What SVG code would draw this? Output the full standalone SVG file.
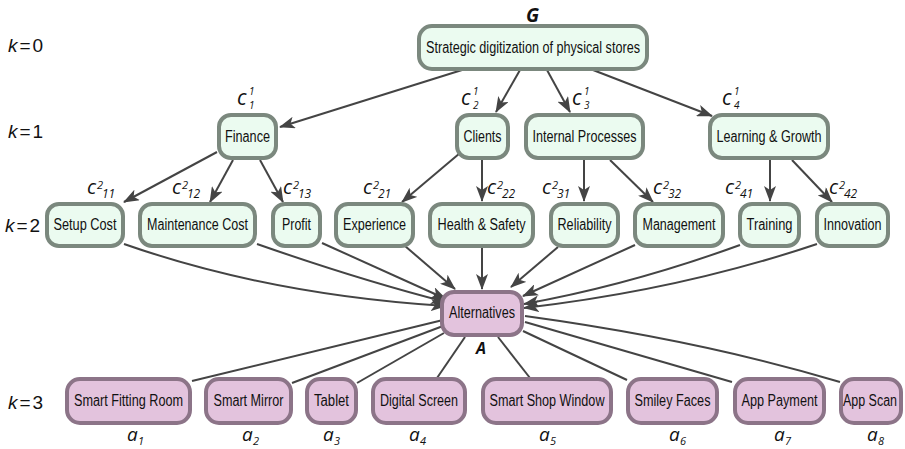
<svg xmlns="http://www.w3.org/2000/svg" width="905" height="449" viewBox="0 0 905 449">
<defs>
<style>
.g rect{fill:#ebfbf0;stroke:#7b887e;stroke-width:4}
.p rect{fill:#e3c3dd;stroke:#8c7488;stroke-width:4}
.t{font-family:"Liberation Sans",Arial,sans-serif;font-size:16px;fill:#111;text-anchor:middle}
.e path{fill:none;stroke:#444;stroke-width:2}
.m{font-family:"Open Sans","Noto Sans",sans-serif;font-style:italic;fill:#111}
.k{font-family:"Liberation Sans",Arial,sans-serif;font-size:19px;fill:#111}
</style>
<marker id="ar" markerUnits="userSpaceOnUse" markerWidth="16" markerHeight="12" viewBox="0 0 16 12" refX="15" refY="6" orient="auto">
<path d="M0,0 L16,6 L0,12 L4,6 z" fill="#444"/>
</marker>
</defs>
<rect width="905" height="449" fill="#fff"/>

<g class="e" id="connectors">
<path marker-end="url(#ar)" d="M462,70 L280,127"/>
<path marker-end="url(#ar)" d="M520,70 L496,112"/>
<path marker-end="url(#ar)" d="M547,70 L570,112"/>
<path marker-end="url(#ar)" d="M593,70 L712,116"/>
<path marker-end="url(#ar)" d="M217,152 L124,202"/>
<path marker-end="url(#ar)" d="M233,160 L210,202"/>
<path marker-end="url(#ar)" d="M260,160 L283,202"/>
<path marker-end="url(#ar)" d="M460,153 L402,202"/>
<path marker-end="url(#ar)" d="M482,160 L482,201"/>
<path marker-end="url(#ar)" d="M584,160 L584,201"/>
<path marker-end="url(#ar)" d="M610,160 L653,202"/>
<path marker-end="url(#ar)" d="M770,160 L770,201"/>
<path marker-end="url(#ar)" d="M792,160 L832,202"/>
<path marker-end="url(#ar)" d="M124,244 Q270,295 446,306"/>
<path marker-end="url(#ar)" d="M257,244 Q360,280 446,302"/>
<path marker-end="url(#ar)" d="M322,243 L446,299"/>
<path marker-end="url(#ar)" d="M405,246 L455,289"/>
<path marker-end="url(#ar)" d="M482,248 L482,289"/>
<path marker-end="url(#ar)" d="M558,247 L511,287"/>
<path marker-end="url(#ar)" d="M635,245 L523,296"/>
<path marker-end="url(#ar)" d="M740,245 Q630,285 524,304"/>
<path marker-end="url(#ar)" d="M817,244 Q680,290 524,308"/>
<path d="M443,320 L192,381"/>
<path d="M443,326 L292,383"/>
<path d="M444,333 L357,383"/>
<path d="M465,337 L437,378"/>
<path d="M498,337 L530,378"/>
<path d="M523,331 L627,380"/>
<path d="M525,322 L732,382"/>
<path d="M525,316 Q700,340 840,382"/>
</g>

<g id="n-root" class="g"><rect x="419" y="26" width="228" height="43" rx="13"/><text class="t" x="533" y="53" textLength="214" lengthAdjust="spacingAndGlyphs">Strategic digitization of physical stores</text></g>
<g id="n-finance" class="g"><rect x="219" y="115" width="57" height="43" rx="12"/><text class="t" x="247.5" y="142" textLength="45" lengthAdjust="spacingAndGlyphs">Finance</text></g>
<g id="n-clients" class="g"><rect x="457" y="115" width="51" height="43" rx="12"/><text class="t" x="482.5" y="142" textLength="38" lengthAdjust="spacingAndGlyphs">Clients</text></g>
<g id="n-internal" class="g"><rect x="526" y="115" width="117" height="43" rx="12"/><text class="t" x="584.5" y="142" textLength="104" lengthAdjust="spacingAndGlyphs">Internal Processes</text></g>
<g id="n-learning" class="g"><rect x="710" y="115" width="118" height="43" rx="12"/><text class="t" x="769" y="142" textLength="105" lengthAdjust="spacingAndGlyphs">Learning &amp; Growth</text></g>

<g id="n-setup" class="g"><rect x="47" y="204" width="76" height="42" rx="12"/><text class="t" x="85" y="230" textLength="63" lengthAdjust="spacingAndGlyphs">Setup Cost</text></g>
<g id="n-maint" class="g"><rect x="140" y="204" width="115" height="42" rx="12"/><text class="t" x="197.5" y="230" textLength="101" lengthAdjust="spacingAndGlyphs">Maintenance Cost</text></g>
<g id="n-profit" class="g"><rect x="273" y="204" width="47" height="42" rx="12"/><text class="t" x="296.5" y="230" textLength="29" lengthAdjust="spacingAndGlyphs">Profit</text></g>
<g id="n-experience" class="g"><rect x="336" y="204" width="77" height="42" rx="12"/><text class="t" x="374.5" y="230" textLength="63" lengthAdjust="spacingAndGlyphs">Experience</text></g>
<g id="n-health" class="g"><rect x="430" y="204" width="103" height="42" rx="12"/><text class="t" x="481.5" y="230" textLength="88" lengthAdjust="spacingAndGlyphs">Health &amp; Safety</text></g>
<g id="n-reliability" class="g"><rect x="551" y="204" width="67" height="42" rx="12"/><text class="t" x="584.5" y="230" textLength="54" lengthAdjust="spacingAndGlyphs">Reliability</text></g>
<g id="n-management" class="g"><rect x="635" y="204" width="88" height="42" rx="12"/><text class="t" x="679" y="230" textLength="73" lengthAdjust="spacingAndGlyphs">Management</text></g>
<g id="n-training" class="g"><rect x="740" y="204" width="59" height="42" rx="12"/><text class="t" x="769.5" y="230" textLength="46" lengthAdjust="spacingAndGlyphs">Training</text></g>
<g id="n-innovation" class="g"><rect x="817" y="204" width="71" height="42" rx="12"/><text class="t" x="852.5" y="230" textLength="58" lengthAdjust="spacingAndGlyphs">Innovation</text></g>

<g id="n-alt" class="p"><rect x="442" y="292" width="80" height="43" rx="12"/><text class="t" x="482" y="318" textLength="66" lengthAdjust="spacingAndGlyphs">Alternatives</text></g>

<g id="n-a1" class="p"><rect x="67" y="379" width="123" height="44" rx="13"/><text class="t" x="128.5" y="406" textLength="109" lengthAdjust="spacingAndGlyphs">Smart Fitting Room</text></g>
<g id="n-a2" class="p"><rect x="206" y="379" width="85" height="44" rx="13"/><text class="t" x="248.5" y="406" textLength="70" lengthAdjust="spacingAndGlyphs">Smart Mirror</text></g>
<g id="n-a3" class="p"><rect x="307" y="379" width="49" height="44" rx="13"/><text class="t" x="331.5" y="406" textLength="35" lengthAdjust="spacingAndGlyphs">Tablet</text></g>
<g id="n-a4" class="p"><rect x="373" y="379" width="92" height="44" rx="13"/><text class="t" x="419" y="406" textLength="78" lengthAdjust="spacingAndGlyphs">Digital Screen</text></g>
<g id="n-a5" class="p"><rect x="483" y="379" width="128" height="44" rx="13"/><text class="t" x="547" y="406" textLength="115" lengthAdjust="spacingAndGlyphs">Smart Shop Window</text></g>
<g id="n-a6" class="p"><rect x="628" y="379" width="89" height="44" rx="13"/><text class="t" x="672.5" y="406" textLength="76" lengthAdjust="spacingAndGlyphs">Smiley Faces</text></g>
<g id="n-a7" class="p"><rect x="735" y="379" width="89" height="44" rx="13"/><text class="t" x="779.5" y="406" textLength="76" lengthAdjust="spacingAndGlyphs">App Payment</text></g>
<g id="n-a8" class="p"><rect x="841" y="379" width="60" height="44" rx="13"/><text class="t" x="870" y="406" font-size="15" textLength="54" lengthAdjust="spacingAndGlyphs">App Scan</text></g>

<g id="labels">
<text class="k" x="8" y="52"><tspan font-style="italic">k</tspan><tspan dx="2">=</tspan><tspan dx="2">0</tspan></text>
<text class="k" x="8" y="138"><tspan font-style="italic">k</tspan><tspan dx="2">=</tspan><tspan dx="2">1</tspan></text>
<text class="k" x="5" y="232"><tspan font-style="italic">k</tspan><tspan dx="2">=</tspan><tspan dx="2">2</tspan></text>
<text class="k" x="8" y="409"><tspan font-style="italic">k</tspan><tspan dx="2">=</tspan><tspan dx="2">3</tspan></text>
<text class="m" x="526" y="22" font-size="19" font-weight="bold">G</text>
<text class="m" x="476" y="354" font-size="16" font-weight="bold">A</text>

<text class="m" font-size="21" x="237" y="105">c</text><text class="m" font-size="10" x="249" y="95">1</text><text class="m" font-size="10" x="249" y="109">1</text>
<text class="m" font-size="21" x="461" y="105">c</text><text class="m" font-size="10" x="473" y="95">1</text><text class="m" font-size="10" x="473" y="109">2</text>
<text class="m" font-size="21" x="572" y="105">c</text><text class="m" font-size="10" x="584" y="95">1</text><text class="m" font-size="10" x="584" y="109">3</text>
<text class="m" font-size="21" x="722" y="105">c</text><text class="m" font-size="10" x="734" y="95">1</text><text class="m" font-size="10" x="734" y="109">4</text>

<text class="m" font-size="20" x="87" y="194">c</text><text class="m" font-size="11" x="97" y="189">2</text><text class="m" font-size="12" x="102" y="198">11</text>
<text class="m" font-size="20" x="172" y="194">c</text><text class="m" font-size="11" x="182" y="189">2</text><text class="m" font-size="12" x="187" y="198">12</text>
<text class="m" font-size="20" x="283" y="194">c</text><text class="m" font-size="11" x="293" y="189">2</text><text class="m" font-size="12" x="298" y="198">13</text>
<text class="m" font-size="20" x="363" y="194">c</text><text class="m" font-size="11" x="373" y="189">2</text><text class="m" font-size="12" x="378" y="198">21</text>
<text class="m" font-size="20" x="487" y="194">c</text><text class="m" font-size="11" x="497" y="189">2</text><text class="m" font-size="12" x="502" y="198">22</text>
<text class="m" font-size="20" x="542" y="194">c</text><text class="m" font-size="11" x="552" y="189">2</text><text class="m" font-size="12" x="557" y="198">31</text>
<text class="m" font-size="20" x="653" y="194">c</text><text class="m" font-size="11" x="663" y="189">2</text><text class="m" font-size="12" x="668" y="198">32</text>
<text class="m" font-size="20" x="725" y="194">c</text><text class="m" font-size="11" x="735" y="189">2</text><text class="m" font-size="12" x="740" y="198">41</text>
<text class="m" font-size="20" x="829" y="194">c</text><text class="m" font-size="11" x="839" y="189">2</text><text class="m" font-size="12" x="844" y="198">42</text>

<text class="m" font-size="19" x="127" y="441">a</text><text class="m" font-size="11" x="138" y="445">1</text>
<text class="m" font-size="19" x="242" y="441">a</text><text class="m" font-size="11" x="253" y="445">2</text>
<text class="m" font-size="19" x="323" y="441">a</text><text class="m" font-size="11" x="334" y="445">3</text>
<text class="m" font-size="19" x="409" y="441">a</text><text class="m" font-size="11" x="420" y="445">4</text>
<text class="m" font-size="19" x="539" y="441">a</text><text class="m" font-size="11" x="550" y="445">5</text>
<text class="m" font-size="19" x="669" y="441">a</text><text class="m" font-size="11" x="680" y="445">6</text>
<text class="m" font-size="19" x="774" y="441">a</text><text class="m" font-size="11" x="785" y="445">7</text>
<text class="m" font-size="19" x="867" y="441">a</text><text class="m" font-size="11" x="878" y="445">8</text>
</g>
</svg>
